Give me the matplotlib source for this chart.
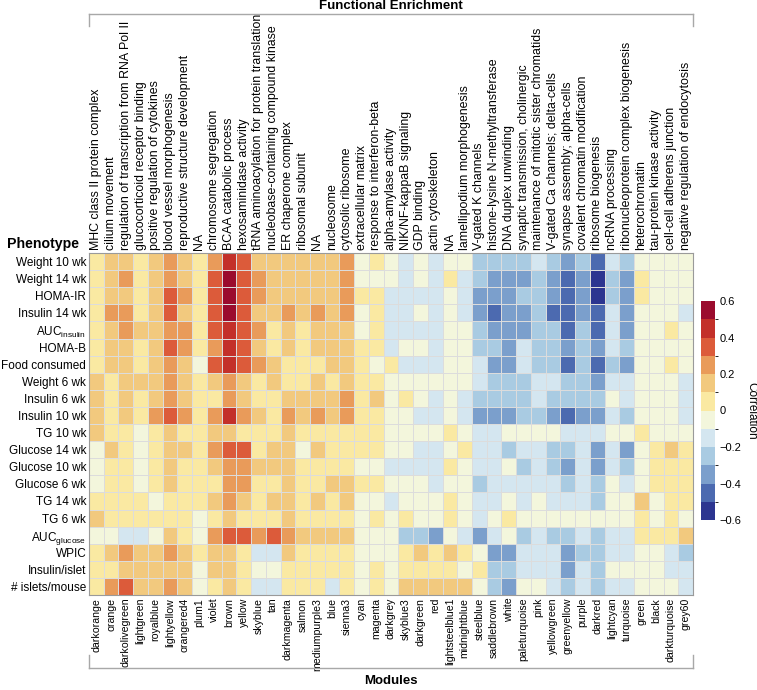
import matplotlib
matplotlib.use('Agg')
import matplotlib.pyplot as plt
from matplotlib.colors import ListedColormap, BoundaryNorm
from matplotlib.lines import Line2D
import numpy as np

plt.rcParams['font.family'] = ['Liberation Sans', 'DejaVu Sans']

# Rows (phenotypes)
phenotypes = ['Weight 10 wk', 'Weight 14 wk', 'HOMA-IR', 'Insulin 14 wk',
              r'AUC$_{\mathregular{insulin}}$', 'HOMA-B', 'Food consumed',
              'Weight 6 wk', 'Insulin 6 wk', 'Insulin 10 wk', 'TG 10 wk',
              'Glucose 14 wk', 'Glucose 10 wk', 'Glucose 6 wk', 'TG 14 wk',
              'TG 6 wk', r'AUC$_{\mathregular{glucose}}$', 'WPIC',
              'Insulin/islet', '# islets/mouse']

# Columns (modules) and their enrichment terms
modules = ['darkorange', 'orange', 'darkolivegreen', 'lightgreen', 'royalblue',
           'lightyellow', 'orangered4', 'plum1', 'violet', 'brown', 'yellow',
           'skyblue', 'tan', 'darkmagenta', 'salmon', 'mediumpurple3', 'blue',
           'sienna3', 'cyan', 'magenta', 'darkgrey', 'skyblue3', 'darkgreen',
           'red', 'lightsteelblue1', 'midnightblue', 'steelblue', 'saddlebrown',
           'white', 'paleturquoise', 'pink', 'yellowgreen', 'greenyellow',
           'purple', 'darkred', 'lightcyan', 'turquoise', 'green', 'black',
           'darkturquoise', 'grey60']

terms = ['MHC class II protein complex', 'cilium movement',
         'regulation of transcription from RNA Pol II',
         'glucocorticoid receptor binding', 'positive regulation of cytokines',
         'blood vessel morphogenesis', 'reproductive structure development',
         'NA', 'chromosome segregation', 'BCAA catabolic process',
         'hexosaminidase activity', 'tRNA aminoacylation for protein translation',
         'nucleobase-containing compound kinase', 'ER chaperone complex',
         'ribosomal subunit', 'NA', 'nucleosome', 'cytosolic ribosome',
         'extracellular matrix', 'response to interferon-beta',
         'alpha-amylase activity', 'NIK/NF-kappaB signaling', 'GDP binding',
         'actin cytoskeleton', 'NA', 'lamellipodium morphogenesis',
         'V-gated K channels', 'histone-lysine N-methyltransferase',
         'DNA duplex unwinding', 'synaptic transmission, cholinergic',
         'maintenance of mitotic sister chromatids',
         'V-gated Ca channels; delta-cells', 'synapse assembly; alpha-cells',
         'covalent chromatin modification', 'ribosome biogenesis',
         'ncRNA processing', 'ribonucleoprotein complex biogenesis',
         'heterochromatin', 'tau-protein kinase activity',
         'cell-cell adherens junction', 'negative regulation of endocytosis']

# Correlations (x100)
corr_pct = [
    [5, 15, 15, 5, 15, 25, 15, 5, 25, 45, 35, 15, 15, 15, 15, 15, 15, 25, -5, 5, -5, -15, -5, -15, -5, -5, -25, -25, -25, -25, -15, -25, -35, -25, -45, -15, -25, -5, -5, -5, -5],
    [5, 15, 25, 5, 15, 25, 15, 5, 35, 55, 35, 25, 15, 15, 15, 15, 15, 25, -5, -5, -5, -15, -5, -15, 5, -15, -25, -35, -35, -35, -25, -35, -45, -35, -55, -25, -35, 5, -5, -5, -5],
    [5, 15, 15, 5, 15, 35, 25, 5, 35, 55, 35, 25, 15, 15, 15, 15, 15, 25, 5, 5, -15, -15, -15, -15, -5, -15, -35, -35, -35, -25, -25, -35, -45, -35, -55, -25, -35, 5, -5, -5, -5],
    [5, 25, 25, 5, 15, 35, 15, 5, 35, 55, 35, 15, 15, 25, 15, 25, 15, 25, -5, 5, -15, -15, -5, -15, -5, -15, -35, -45, -35, -35, -25, -45, -45, -35, -45, -15, -35, -5, -5, -5, -15],
    [5, 15, 25, 15, 15, 25, 25, 5, 35, 45, 35, 25, 5, 15, 5, 15, 15, 15, -5, 5, -15, -15, -15, -15, -5, -5, -25, -35, -35, -35, -25, -25, -45, -25, -45, -15, -35, -5, -5, 5, -5],
    [5, 15, 15, 5, 15, 35, 25, 5, 25, 45, 35, 15, 5, 15, 5, 15, 15, 15, 5, 5, -15, -5, -5, -15, -5, -5, -25, -25, -35, -15, -25, -25, -35, -25, -35, -15, -25, -5, -5, -5, -5],
    [5, 15, 15, 5, 15, 25, 15, -5, 35, 45, 35, 25, 15, 5, 5, 5, 15, 15, 5, -5, 5, -15, -15, -15, -5, -5, -15, -35, -35, -15, -25, -25, -45, -25, -45, -25, -35, -5, -5, 5, -5],
    [15, 5, 15, 15, 15, 25, 15, 5, 15, 25, 15, 5, 15, 5, 5, 15, 5, 15, 5, 5, -5, -5, -5, -5, -5, -5, -15, -25, -25, -25, -15, -15, -25, -25, -35, -15, -15, -5, -5, -5, -15],
    [15, 5, 15, 5, 15, 25, 15, 5, 5, 25, 15, 5, 5, 15, 15, 15, 15, 25, 5, 15, -5, 5, -5, -15, -5, -15, -25, -25, -25, -25, -15, -25, -25, -25, -25, -5, -15, -5, -5, -5, -15],
    [15, 5, 15, 5, 25, 35, 25, 5, 25, 45, 25, 15, 5, 25, 15, 25, 15, 25, 5, 5, -5, -5, -15, -15, -5, -15, -35, -35, -35, -25, -25, -35, -45, -35, -35, -15, -25, -5, -5, -5, -15],
    [15, 5, 5, -5, 5, 15, 5, 5, 15, 15, 5, 5, 5, 15, 5, 5, 5, 5, 5, 5, -5, -5, -5, -5, 5, -5, -15, -15, -5, -5, -5, -5, -15, -15, -15, -5, -5, 5, -5, -5, -5],
    [-5, 15, 5, -5, 5, 15, 15, 5, 25, 35, 35, 5, 15, 15, -5, 15, 5, 5, 5, 5, -5, -5, -15, -15, -5, 5, -15, -15, -25, -15, -15, -25, -25, -15, -35, -15, -35, -5, 5, 15, 5],
    [-5, 5, 5, -5, 5, 15, 5, 5, 15, 25, 25, 15, 15, 15, 5, 5, 5, 5, -5, -5, -15, -15, -15, -15, 5, -5, -15, -15, -5, -25, -15, -25, -35, -15, -35, -15, -25, -5, 5, 5, 5],
    [-5, 5, 5, -5, 5, 15, 5, 5, 5, 25, 25, 5, 5, 15, 5, 5, 15, 15, 5, 5, -5, -5, -5, -15, -5, -5, -25, -15, -15, -15, -15, -15, -25, -15, -25, -5, -15, -5, 5, 5, 5],
    [5, 5, 5, 5, -5, 5, 5, 5, 15, 25, 15, 5, 15, 15, 5, 15, 5, 15, -5, -5, -15, -5, -5, -5, 5, -5, -15, -15, -5, -15, -5, -15, -15, -15, -25, -5, -5, 15, -5, 5, 5],
    [15, 5, 5, 5, 5, 5, 5, -5, 5, 15, 5, 5, 5, 15, 5, 5, 5, 5, -5, 5, -5, 5, -5, -5, 5, -5, -15, -5, 5, -5, -5, -5, -5, -5, -5, -5, -5, 5, -5, 5, -5],
    [-5, -5, -15, -15, -5, 15, 5, -5, 25, 35, 35, 25, 35, 25, 15, 15, 15, 15, -5, -5, -5, -25, -25, -35, -5, -15, -35, -15, -5, -25, -15, -25, -25, -15, -25, -15, -15, 5, 5, 5, 15],
    [5, 15, 25, 15, 15, 25, 15, 5, 15, 15, 5, -15, -15, 15, 5, 5, 5, 5, -5, -5, -5, 5, 15, 5, 15, 5, -5, -35, -35, -15, -15, -15, -35, -25, -25, -15, -15, -5, -5, -15, -25],
    [5, 5, 15, 15, 15, 15, 15, -5, 15, 15, 5, -5, -5, 5, 5, 5, 5, 5, -5, 5, -5, 5, 5, 5, 5, -5, 5, -25, -25, -15, -15, -15, -35, -15, -25, -5, -5, -5, -5, -15, -15],
    [5, 25, 35, 15, 15, 25, 15, -5, 5, 15, 5, -15, -15, 5, 5, 5, -15, 5, -5, 5, -5, 15, 15, 15, 15, 15, -5, -25, -35, -5, -5, -15, -25, -15, -25, -15, -15, -5, -5, -5, -15],
]
corr = np.array(corr_pct) / 100.0

# Discrete colour scale, -0.6 .. 0.6 in steps of 0.1
colors = ['#2c3590', '#4c6ab0', '#7b9fcc', '#a9cbe2', '#d4e6f0', '#f3f6dc',
          '#fae9a2', '#f2c97e', '#e99b5a', '#dc5b3a', '#c3302a', '#9b0c2e']
cmap = ListedColormap(colors)
bounds = np.round(np.linspace(-0.6, 0.6, 13), 2)
norm = BoundaryNorm(bounds, cmap.N)

W, H = 757, 690
fig = plt.figure(figsize=(W / 100, H / 100), dpi=100)

x0, x1, y0, y1 = 89, 693, 253, 595
ax = fig.add_axes([x0 / W, 1 - y1 / H, (x1 - x0) / W, (y1 - y0) / H])
nr, nc = corr.shape
ax.pcolormesh(np.arange(nc + 1), np.arange(nr + 1), corr, cmap=cmap, norm=norm,
              edgecolors='#dcdcdc', linewidth=0.6)
ax.set_xlim(0, nc)
ax.set_ylim(nr, 0)
for s in ax.spines.values():
    s.set_color('#9a9a9a')
    s.set_linewidth(0.8)

ax.set_yticks(np.arange(nr) + 0.5)
ax.set_yticklabels(phenotypes, fontsize=8.5)
ax.set_xticks(np.arange(nc) + 0.5)
ax.set_xticklabels(modules, rotation=90, fontsize=7.6)
ax.tick_params(length=0, pad=2)

ax2 = ax.twiny()
ax2.set_xlim(0, nc)
ax2.set_xticks(np.arange(nc) + 0.5)
ax2.set_xticklabels(terms, rotation=90, fontsize=8.9)
ax2.tick_params(length=0, pad=2)
for s in ax2.spines.values():
    s.set_visible(False)

fig.text(7 / W, 1 - 244 / H, 'Phenotype', fontsize=10.2, fontweight='bold',
         ha='left', va='center')

# Brackets
gray = '#a8a8a8'
def bracket(y_line, y_tick):
    fig.add_artist(Line2D([x0 / W, x1 / W], [1 - y_line / H, 1 - y_line / H],
                          color=gray, lw=1))
    for xx in (x0, x1):
        fig.add_artist(Line2D([xx / W, xx / W], [1 - y_line / H, 1 - y_tick / H],
                              color=gray, lw=1))

bracket(14, 26)
bracket(668, 655)
fig.text((x0 + x1) / 2 / W, 1 - 6 / H, 'Functional Enrichment', fontsize=9.5,
         fontweight='bold', ha='center', va='center')
fig.text((x0 + x1) / 2 / W, 1 - 681 / H, 'Modules', fontsize=9.5,
         fontweight='bold', ha='center', va='center')

# Colour bar
cax = fig.add_axes([701 / W, 1 - 520 / H, 14 / W, 219 / H])
cb = fig.colorbar(plt.cm.ScalarMappable(norm=norm, cmap=cmap), cax=cax,
                  boundaries=bounds, ticks=[-0.6, -0.4, -0.2, 0, 0.2, 0.4, 0.6])
cb.ax.set_yticklabels(['\u22120.6', '\u22120.4', '\u22120.2', '0', '0.2', '0.4', '0.6'],
                      fontsize=8)
cb.ax.tick_params(length=0, pad=3)
cb.outline.set_visible(False)
cb.set_label('Correlation', rotation=-90, fontsize=8.5, labelpad=12)

fig.savefig('out.png', dpi=100)
